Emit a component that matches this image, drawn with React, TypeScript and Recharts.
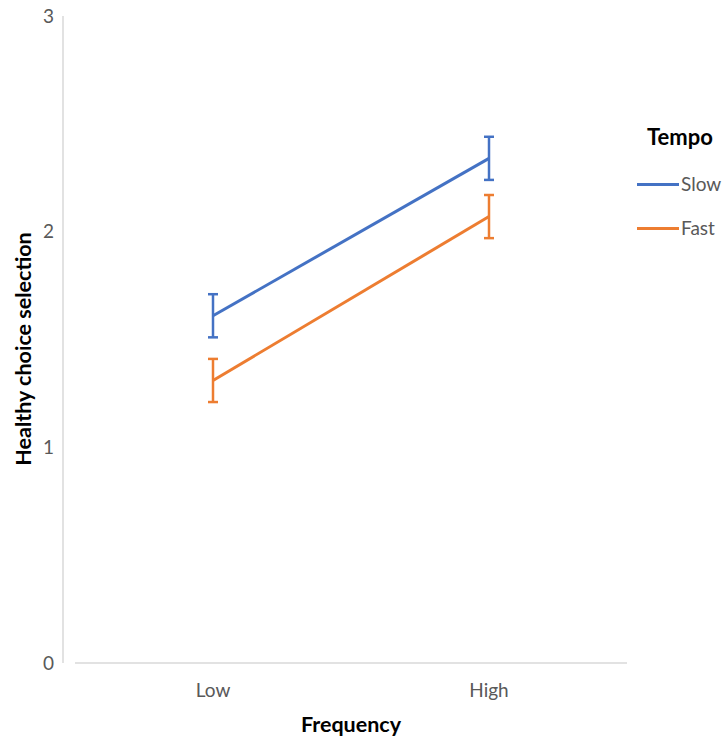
import React from 'react';
import { ComposedChart, Line, XAxis, YAxis, ErrorBar, Legend } from 'recharts';

const categories = ['Low', 'High'];
const slowValues = [1.61, 2.34];
const fastValues = [1.31, 2.07];
const slowErrors = [0.1, 0.1];
const fastErrors = [0.1, 0.1];
const yTicks = [0, 1, 2, 3];

const data = categories.map((c, i) => ({
  category: c,
  Slow: slowValues[i],
  Fast: fastValues[i],
  slowErr: slowErrors[i],
  fastErr: fastErrors[i],
}));

const FONT = 'Lato, Carlito, "Open Sans", sans-serif';
const SLOW = '#4472C4';
const FAST = '#ED7D31';

const LegendContent = () => (
  <div style={{ fontFamily: FONT, width: 92, position: 'relative', height: 130 }}>
    <div style={{ position: 'absolute', top: 0, left: 17, fontWeight: 700, fontSize: 22, color: '#000', height: 26, lineHeight: '26px' }}>Tempo</div>
    {[
      ['Slow', SLOW],
      ['Fast', FAST],
    ].map(([name, color], i) => (
      <div key={name} style={{ position: 'absolute', top: 48 + i * 44, left: 7, display: 'flex', alignItems: 'center', height: 24 }}>
        <div style={{ width: 42, height: 3, background: color }} />
        <span style={{ fontSize: 19, color: '#595959', marginLeft: 2, lineHeight: '24px' }}>{name}</span>
      </div>
    ))}
  </div>
);

export default function App() {
  return (
    <div style={{ position: 'absolute', left: 0, top: 0, background: '#fff' }}>
      <ComposedChart
        width={722}
        height={736}
        data={data}
        margin={{ top: 16, right: 95, bottom: 13, left: 20 }}
      >
        <XAxis
          dataKey="category"
          scale="band"
          height={60}
          axisLine={{ stroke: '#d9d9d9', strokeWidth: 1.5 }}
          tickLine={false}
          tickSize={0}
          tickMargin={21}
          tick={{ fill: '#595959', fontSize: 19, fontFamily: FONT }}
          label={(props: any) => {
            const vb = props.viewBox || {};
            return (
              <text
                x={vb.x + vb.width / 2}
                y={732}
                textAnchor="middle"
                fontFamily={FONT}
                fontWeight={700}
                fontSize={21.5}
                fill="#000"
              >
                Frequency
              </text>
            );
          }}
        />
        <YAxis
          domain={[0, 3]}
          ticks={yTicks}
          width={55}
          axisLine={{ stroke: '#d9d9d9', strokeWidth: 1.5, transform: 'translate(-12,0)' }}
          tickLine={false}
          tickSize={0}
          tickMargin={21}
          tick={{ fill: '#595959', fontSize: 19, fontFamily: FONT }}
          label={() => (
            <text
              x={31}
              y={349}
              transform="rotate(-90, 31, 349)"
              textAnchor="middle"
              fontFamily={FONT}
              fontWeight={700}
              fontSize={21.5}
              fill="#000"
            >
              Healthy choice selection
            </text>
          )}
        />
        <Legend
          layout="vertical"
          verticalAlign="middle"
          align="center"
          content={<LegendContent />}
          wrapperStyle={{ position: 'absolute', left: 630, top: 124, width: 92 }}
        />
        <Line
          dataKey="Slow"
          stroke={SLOW}
          strokeWidth={3}
          dot={false}
          activeDot={false}
          isAnimationActive={false}
        >
          <ErrorBar dataKey="slowErr" direction="y" width={5} stroke={SLOW} strokeWidth={2.5} isAnimationActive={false} />
        </Line>
        <Line
          dataKey="Fast"
          stroke={FAST}
          strokeWidth={3}
          dot={false}
          activeDot={false}
          isAnimationActive={false}
        >
          <ErrorBar dataKey="fastErr" direction="y" width={5} stroke={FAST} strokeWidth={2.5} isAnimationActive={false} />
        </Line>
      </ComposedChart>
    </div>
  );
}
